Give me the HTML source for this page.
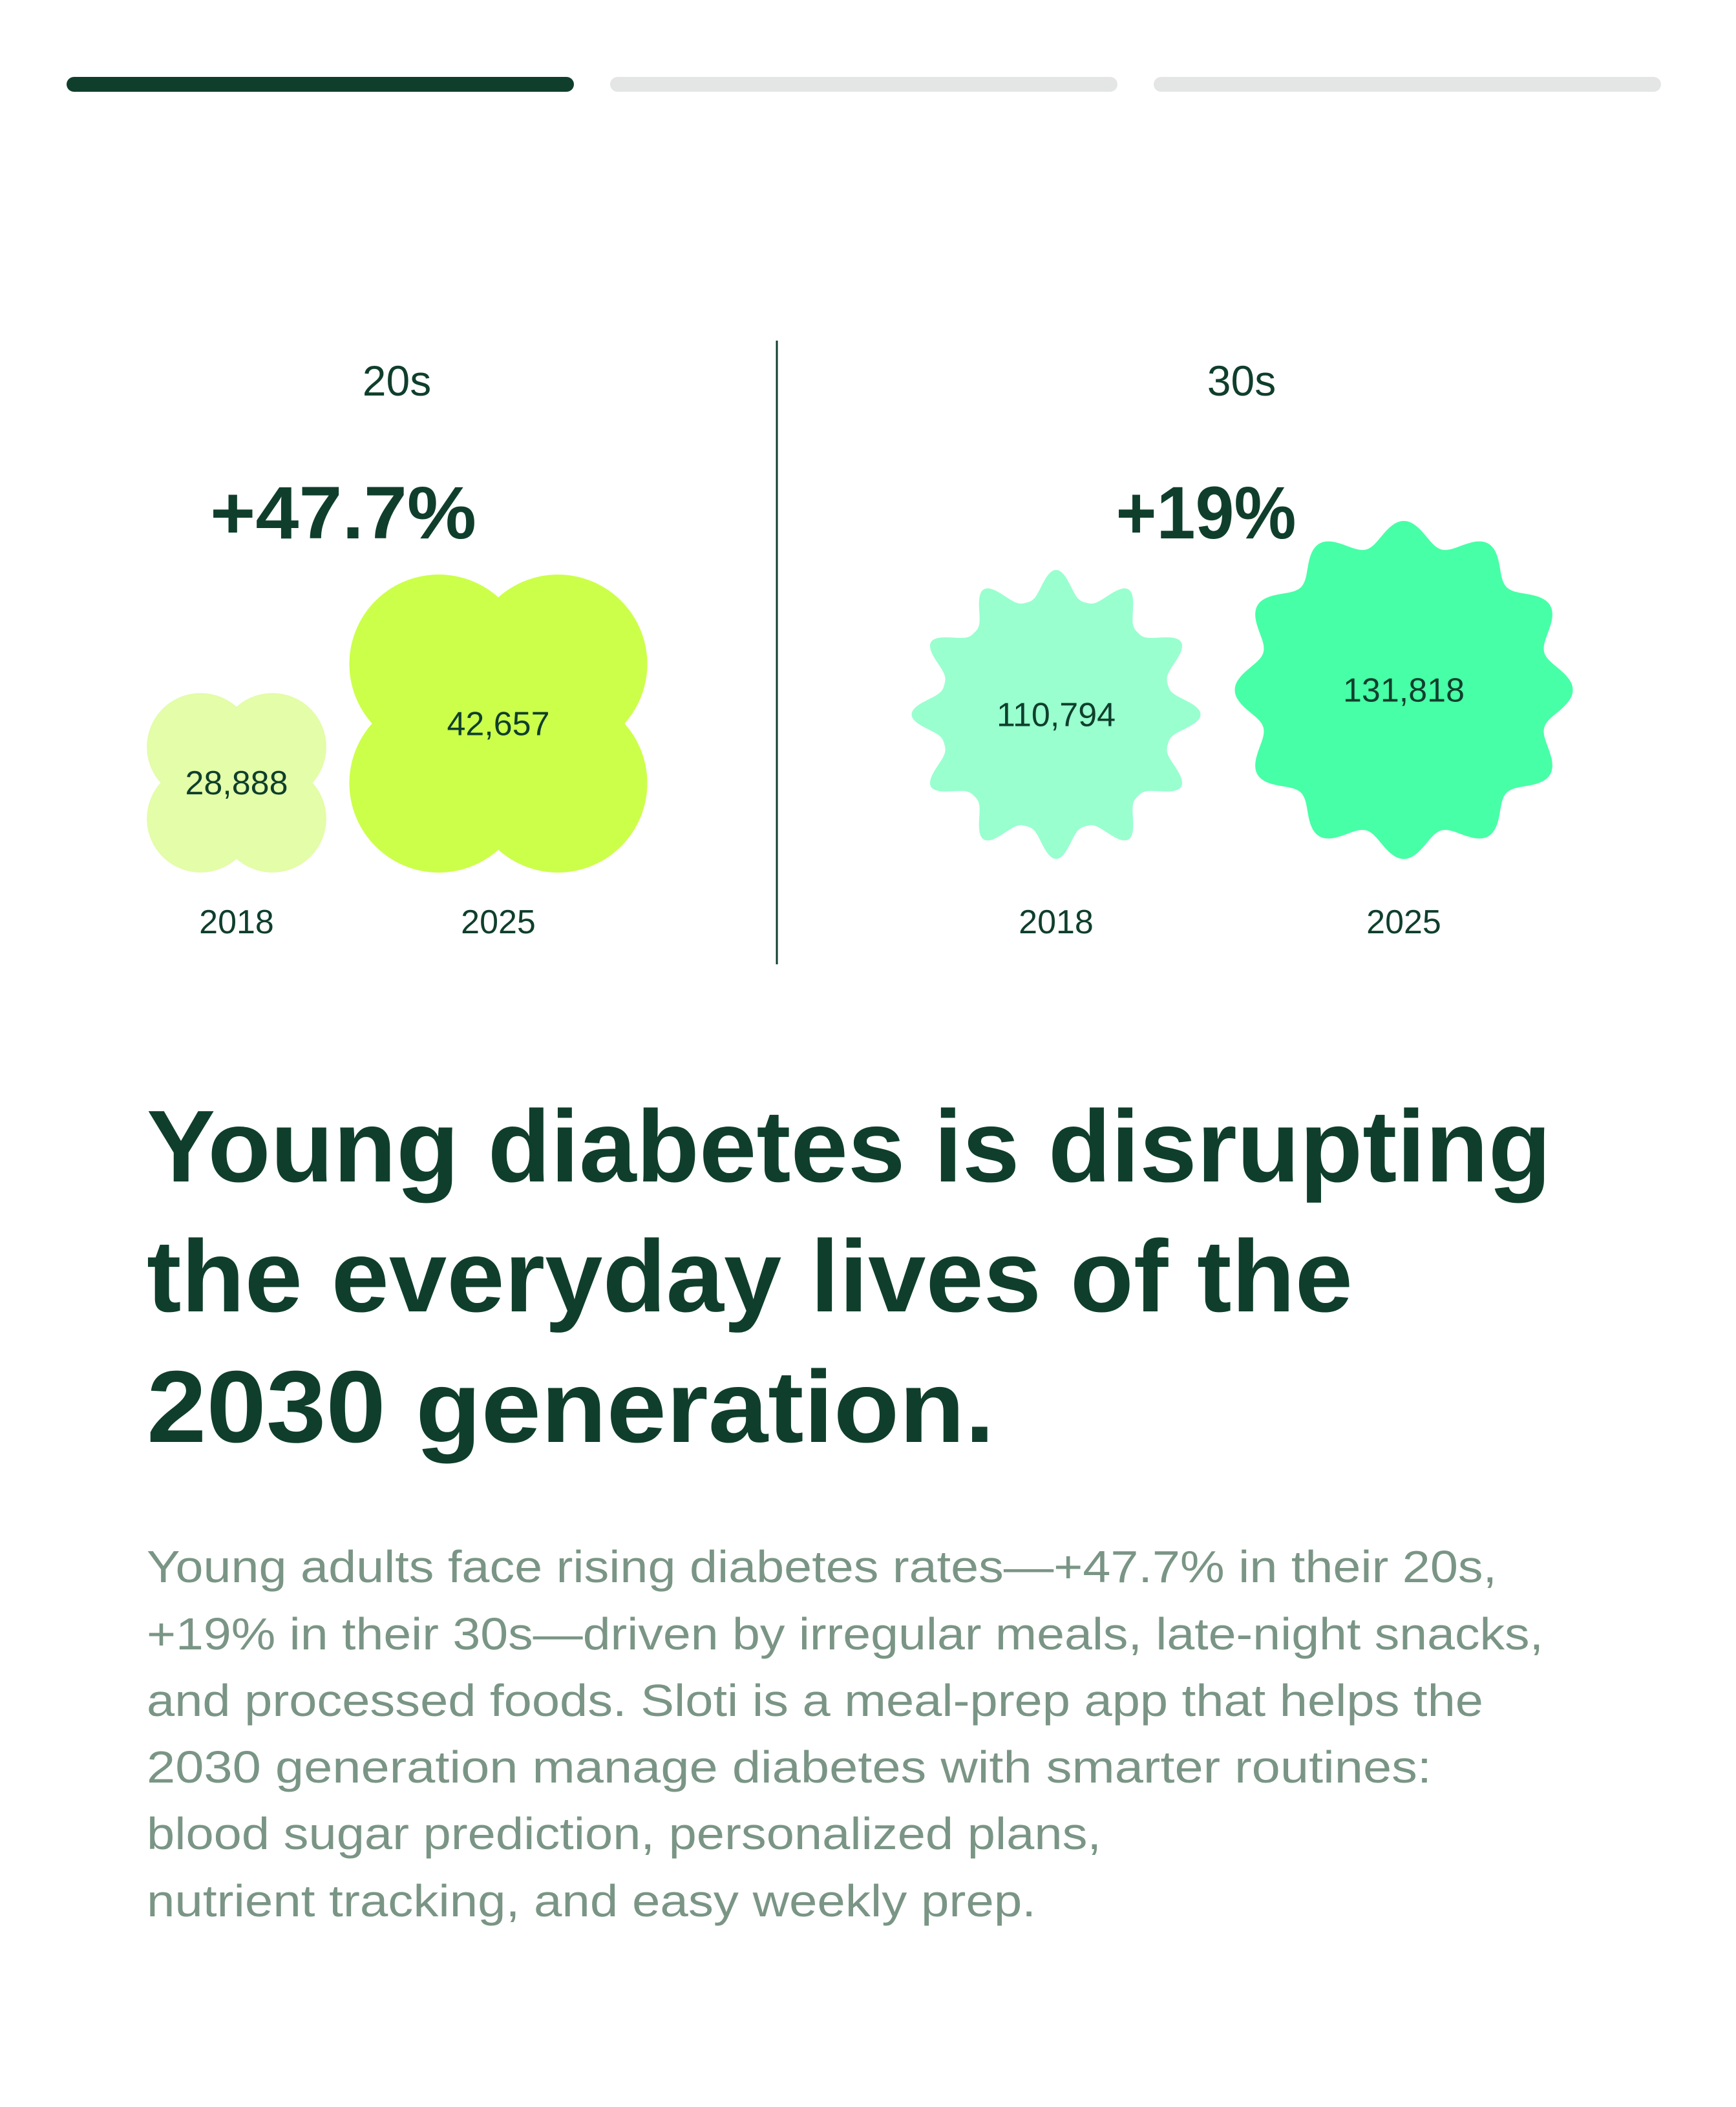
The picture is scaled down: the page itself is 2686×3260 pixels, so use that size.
<!DOCTYPE html>
<html><head><meta charset="utf-8"><style>
html,body{margin:0;padding:0;background:#fff;}
svg{display:block;}
</style></head><body>
<svg id="chart" width="2686" height="3260" viewBox="0 0 2686 3260" xmlns="http://www.w3.org/2000/svg" font-family="Liberation Sans, sans-serif">
  <g>
    <rect x="103" y="119" width="785" height="23" rx="11.5" fill="#0f3f2c"/>
    <rect x="944" y="119" width="785" height="23" rx="11.5" fill="#e3e6e4"/>
    <rect x="1785" y="119" width="785" height="23" rx="11.5" fill="#e3e6e4"/>
  </g>
  <line x1="1202" y1="527" x2="1202" y2="1492" stroke="#0f3f2c" stroke-width="3"/>
  <g id="marks"></g>
  <g fill="#0f3f2c" font-weight="bold" font-size="158">
    <text x="227" y="1828" textLength="2173" lengthAdjust="spacingAndGlyphs">Young diabetes is disrupting</text>
    <text x="227" y="2029" textLength="1866" lengthAdjust="spacingAndGlyphs">the everyday lives of the</text>
    <text x="227" y="2231" textLength="1312" lengthAdjust="spacingAndGlyphs">2030 generation.</text>
  </g>
  <g fill="#7a9585" font-size="70">
    <text x="227" y="2448" textLength="2089" lengthAdjust="spacingAndGlyphs">Young adults face rising diabetes rates—+47.7% in their 20s,</text>
    <text x="227" y="2552" textLength="2161" lengthAdjust="spacingAndGlyphs">+19% in their 30s—driven by irregular meals, late-night snacks,</text>
    <text x="227" y="2655" textLength="2068" lengthAdjust="spacingAndGlyphs">and processed foods. Sloti is a meal-prep app that helps the</text>
    <text x="227" y="2758" textLength="1988" lengthAdjust="spacingAndGlyphs">2030 generation manage diabetes with smarter routines:</text>
    <text x="227" y="2861" textLength="1477" lengthAdjust="spacingAndGlyphs">blood sugar prediction, personalized plans,</text>
    <text x="227" y="2965" textLength="1376" lengthAdjust="spacingAndGlyphs">nutrient tracking, and easy weekly prep.</text>
  </g>
</svg>
<script>
const groups = ["20s", "30s"];
const changeLabels = ["+47.7%", "+19%"];
const years = ["2018", "2025"];
const values20s = [28888, 42657];
const values30s = [110794, 131818];

const NS = "http://www.w3.org/2000/svg";
const marks = document.getElementById("marks");
const DARK = "#0f3f2c";
function mk(tag, attrs, parent){
  const e = document.createElementNS(NS, tag);
  for (const k in attrs) e.setAttribute(k, attrs[k]);
  (parent || marks).appendChild(e);
  return e;
}
const panels = [
  {cx:[366,771], bottomY:1350, maxSize:461, exp:1.3, titleX:614, changeX:531, changeW:412, colors:["#e3fda8","#ccff4a"], shape:"clover", vals:values20s},
  {cx:[1634,2172], bottomY:1329, maxSize:523, exp:0.9, titleX:1921, changeX:1866, changeW:279, colors:["#99ffcf","#47ffa6"], shape:"star", vals:values30s}
];
function sizeScale(p, v){ const m = Math.max(...p.vals); return p.maxSize * Math.pow(v/m, p.exp); }

function cloverPath(cx, cy, s){
  const r = 0.3*s, o = 0.2*s;
  let d = "";
  [[-1,-1],[1,-1],[-1,1],[1,1]].forEach(([a,b])=>{
    const x = cx+a*o, y = cy+b*o;
    d += `M${x-r},${y}a${r},${r} 0 1,0 ${2*r},0a${r},${r} 0 1,0 ${-2*r},0Z`;
  });
  d += `M${cx-o},${cy-o}v${2*o}h${2*o}v${-2*o}Z`;
  return d;
}
function starPath(cx, cy, s, spiky){
  const Ro = s/2, Ri = Ro*(spiky?0.8:0.86), n = 12, N = 360;
  let d = "";
  for (let i=0;i<=N;i++){
    const t = i/N*2*Math.PI;
    let f = (1+Math.cos(n*t))/2;
    f = spiky ? Math.pow(f,1.5) : Math.pow(f,1.0);
    const r = Ri + (Ro-Ri)*f;
    const x = cx + r*Math.cos(t), y = cy + r*Math.sin(t);
    d += (i?"L":"M") + x.toFixed(1) + "," + y.toFixed(1);
  }
  return d + "Z";
}

panels.forEach((p, gi) => {
  const t = mk("text", {x:p.titleX, y:612, "text-anchor":"middle", "font-size":66, fill:DARK});
  t.textContent = groups[gi];
  
  
  const c = mk("text", {x:p.changeX, y:833, "text-anchor":"middle", "font-size":115, "font-weight":"bold", fill:DARK, textLength:p.changeW, lengthAdjust:"spacingAndGlyphs"});
  c.textContent = changeLabels[gi];
  
  
  p.vals.forEach((v, i) => {
    const s = sizeScale(p, v);
    const cx = p.cx[i], cy = p.bottomY - s/2;
    const d = p.shape === "clover" ? cloverPath(cx, cy, s) : starPath(cx, cy, s, i===0);
    const sh = mk("path", {d:d, fill:p.colors[i], "fill-rule":"nonzero"});
    
    
    const vl = mk("text", {x:cx, y:cy+18, "text-anchor":"middle", "font-size":52, fill:DARK});
    vl.textContent = v.toLocaleString("en-US");
    
    
    const yl = mk("text", {x:cx, y:1444, "text-anchor":"middle", "font-size":52, fill:DARK});
    yl.textContent = years[i];
    
    
  });
});
</script>
</body></html>
